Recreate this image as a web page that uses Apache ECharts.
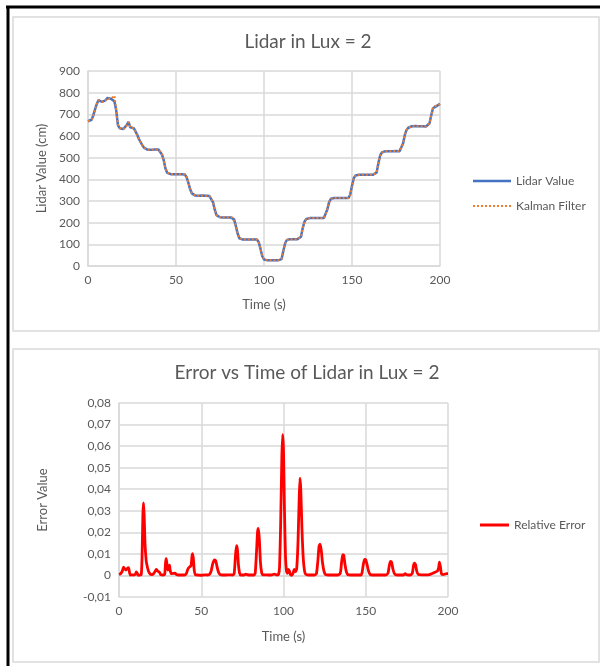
<!DOCTYPE html>
<html>
<head>
<meta charset="utf-8">
<script src="https://cdn.jsdelivr.net/npm/echarts@6/dist/echarts.min.js"></script>
<style>html,body{margin:0;padding:0;background:#fff}#c{width:600px;height:666px}</style>
</head>
<body>
<div id="c"></div>
<script>
// ---- Chart 1 data (time in s, 1 s steps) ----
const lidarTime = [];
for (let i = 0; i <= 200; i++) lidarTime.push(i);
const lidarValue = [
668,670,675,695,723,748,766,762,757,754,765,775,777,772,769,760,720,650,636,631,
632,636,650,665,640,640,636,634,605,585,570,555,545,540,536,535,536,537,538,538,
538,536,515,489,450,430,425,424,424,424,423,423,423,423,423,422,410,385,355,335,
327,325,324,324,324,325,324,324,323,323,318,295,260,235,226,225,224,224,225,224,
224,224,224,215,185,150,128,124,122,122,122,122,122,123,122,122,122,110,80,45,
30,27,26,26,26,26,26,26,26,26,32,70,105,120,123,124,124,124,124,124,
124,135,175,205,217,220,221,221,221,221,221,221,221,221,221,228,262,295,310,314,
314,314,314,314,314,314,314,314,314,330,370,405,418,421,421,421,421,421,421,421,
421,421,421,421,432,475,510,524,528,530,530,530,530,530,530,531,533,530,535,565,
605,628,638,643,645,645,646,645,645,645,645,645,644,645,658,695,728,737,738,742,
748];
const kalmanValue = [
668,670,674,694,722,747,765,762,757,755,764,774,776,772,769,786,722,652,637,631,
632,635,649,664,641,640,636,634,606,586,571,556,546,540,537,535,536,537,538,538,
538,536,516,490,451,431,425,424,424,424,423,423,423,423,423,422,411,386,356,336,
327,325,324,324,324,325,324,324,323,323,318,296,261,236,226,225,224,224,225,224,
224,224,224,215,186,151,129,124,122,122,122,122,122,123,122,122,122,110,81,46,
31,27,26,26,26,26,26,26,26,26,32,69,104,120,123,124,124,124,124,124,
124,135,174,204,217,220,221,221,221,221,221,221,221,221,221,228,261,294,310,314,
314,314,314,314,314,314,314,314,314,330,369,404,418,421,421,421,421,421,421,421,
421,421,421,421,432,474,509,524,528,530,530,530,530,530,530,531,533,530,535,564,
604,627,638,643,645,645,646,645,645,645,645,645,644,645,658,694,727,737,738,742,
748];

// ---- Chart 2 data ----
const errTime = [
0,1,2,2.8,3.5,4.2,5,5.8,6.5,7,8,9,10,10.5,11,11.6,12.5,13.5,14,14.5,14.9,15.3,15.8,16.5,17.2,18,19,20,
21,22,22.6,23.3,24,24.6,25.3,26,27,27.8,28.3,28.7,29.2,29.7,30.2,30.7,31.2,32,33,34,35,36,38,40,41,42,43,43.8,44.4,44.8,45.3,45.8,46.5,
48,50,52,54,55,56,57,58,58.8,59.6,60.5,61.5,63,65,67,69,70,70.7,71.4,72,72.6,73.3,74,76,77,79,81,82,82.8,83.6,84.2,84.7,85.3,86,86.8,87.5,
89,91,93,94.5,96,97,97.6,98.3,99,99.5,100,100.6,101.2,101.8,102.4,103,103.6,104.3,105,105.8,106.5,107.3,108,108.8,109.5,110,110.5,111.2,112,112.8,113.6,
115,117,119,120,120.8,121.6,122.2,122.9,123.7,124.6,125.5,127,129,131,133,134.5,135.3,136,136.6,137.4,138.3,139.2,
141,143,145,147,147.7,148.5,149.3,150,150.8,151.7,152.7,154,156,158,160,162,163.5,164.3,165,165.7,166.5,167.5,
169,171,173,174,174.8,176,177,178.3,179,179.6,180.3,181,182,184,186,188,190,192,193.5,194.3,194.8,195.4,196,197,198,199,200];
const errValue = [
0.0005,0.0008,0.002,0.0038,0.003,0.0025,0.0032,0.0036,0.001,0.0002,0.0003,0.0002,0.0006,0.0016,0.0012,0.0001,0.0002,0.0003,0.008,0.028,0.0337,0.028,0.015,0.007,0.004,0.0018,0.0006,0.0004,
0.0008,0.002,0.0028,0.0022,0.0018,0.0015,0.0004,0.0003,0.0002,0.0005,0.006,0.0078,0.005,0.0025,0.0039,0.0048,0.002,0.0008,0.001,0.0011,0.0004,0.0002,0.0002,0.0002,0.001,0.0032,0.004,0.0045,0.009,0.0101,0.007,0.002,0.0003,
0.0002,0.0001,0.0003,0.0002,0.0005,0.002,0.0055,0.0072,0.0068,0.004,0.0015,0.0004,0.0002,0.0002,0.0003,0.0002,0.0008,0.008,0.0138,0.012,0.005,0.001,0.0002,0.0002,0.0006,0.0002,0.0002,0.0002,0.001,0.011,0.02,0.0218,0.017,0.006,0.001,0.0003,
0.0003,0.0002,0.0003,0.0006,0.0002,0.0005,0.004,0.025,0.055,0.0653,0.058,0.03,0.009,0.002,0.001,0.0028,0.002,0.0003,0.0001,0.001,0.0028,0.0018,0.003,0.015,0.035,0.0451,0.04,0.022,0.008,0.002,0.0005,
0.0002,0.0002,0.0002,0.0008,0.006,0.0135,0.0145,0.012,0.006,0.002,0.0004,0.0002,0.0002,0.0002,0.0002,0.001,0.006,0.0097,0.0095,0.005,0.0015,0.0003,
0.0002,0.0002,0.0002,0.0002,0.001,0.005,0.0075,0.0073,0.005,0.002,0.0004,0.0002,0.0002,0.0002,0.0002,0.0002,0.001,0.0045,0.0065,0.0062,0.003,0.0008,
0.0002,0.0002,0.0002,0.0008,0.0003,0.0002,0.0002,0.001,0.0045,0.0057,0.005,0.002,0.0004,0.0003,0.0003,0.0003,0.0008,0.0015,0.002,0.0035,0.0062,0.004,0.0008,0.0004,0.0006,0.0008,0.0008];

const FONT = 'Lato, "Liberation Sans", sans-serif';
const TXT = '#595959';
const GRID = '#d9d9d9';

const zip = (a, b) => a.map((v, i) => [v, b[i]]);

// legend icons: solid bar and a row of small dots
const SOLID_ICON = 'path://M0,0L38,0L38,2.5L0,2.5Z';
let dots = '';
for (let k = 0; k < 10; k++) { const x0 = k * 4; dots += 'M' + x0 + ',0L' + (x0 + 2) + ',0L' + (x0 + 2) + ',2L' + x0 + ',2Z'; }
const DOT_ICON = 'path://' + dots;
const RED_ICON = 'path://M0,0L29,0L29,3L0,3Z';

const chart = echarts.init(document.getElementById('c'), null, {renderer: 'canvas'});

function axisCommon() {
  return {
    axisLine: {show: true, lineStyle: {color: GRID, width: 1.5}},
    axisTick: {show: false},
    splitLine: {show: true, lineStyle: {color: GRID, width: 1.5}},
    axisLabel: {color: TXT, fontFamily: FONT, fontSize: 12},
    nameTextStyle: {color: TXT, fontFamily: FONT, fontSize: 13}
  };
}

const option = {
  animation: false,
  backgroundColor: '#fff',
  textStyle: {fontFamily: FONT},
  graphic: [
    {type: 'line', shape: {x1: 6, y1: 7, x2: 600, y2: 7}, style: {stroke: '#000', lineWidth: 3}},
    {type: 'line', shape: {x1: 8, y1: 6, x2: 8, y2: 666}, style: {stroke: '#000', lineWidth: 3}},
    {type: 'rect', shape: {x: 13, y: 17, width: 586, height: 314}, style: {fill: 'none', stroke: GRID, lineWidth: 1.5}},
    {type: 'rect', shape: {x: 13, y: 349, width: 586, height: 313}, style: {fill: 'none', stroke: GRID, lineWidth: 1.5}},
    {type: 'text', x: 308, y: 42, style: {text: 'Lidar in Lux = 2', fill: TXT, font: '19px ' + FONT, textAlign: 'center', textVerticalAlign: 'middle'}},
    {type: 'text', x: 307, y: 373, style: {text: 'Error vs Time of Lidar in Lux = 2', fill: TXT, font: '19px ' + FONT, textAlign: 'center', textVerticalAlign: 'middle'}}
  ],
  grid: [
    {left: 88, top: 71, width: 352, height: 195},
    {left: 119, top: 403, width: 329, height: 194}
  ],
  xAxis: [
    Object.assign(axisCommon(), {type: 'value', gridIndex: 0, min: 0, max: 200, interval: 50,
      name: 'Time (s)', nameLocation: 'middle', nameGap: 32}),
    Object.assign(axisCommon(), {type: 'value', gridIndex: 1, min: 0, max: 200, interval: 50,
      name: 'Time (s)', nameLocation: 'middle', nameGap: 33})
  ],
  yAxis: [
    Object.assign(axisCommon(), {type: 'value', gridIndex: 0, min: 0, max: 900, interval: 100,
      name: 'Lidar Value (cm)', nameLocation: 'middle', nameGap: 40}),
    Object.assign(axisCommon(), {type: 'value', gridIndex: 1, min: -0.01, max: 0.08, interval: 0.01,
      name: 'Error Value', nameLocation: 'middle', nameGap: 70,
      axisLabel: {color: TXT, fontFamily: FONT, fontSize: 12,
        formatter: v => Math.abs(v) < 1e-9 ? '0' : v.toFixed(2).replace('.', ',')}})
  ],
  legend: [
    {data: [{name: 'Lidar Value', icon: SOLID_ICON}, {name: 'Kalman Filter', icon: DOT_ICON}],
      orient: 'vertical', left: 473, top: 175, padding: 0,
      itemWidth: 38, itemHeight: 2.5, itemGap: 13,
      textStyle: {color: TXT, fontFamily: FONT, fontSize: 12}},
    {data: [{name: 'Relative Error', icon: RED_ICON}], orient: 'vertical', left: 480, top: 519, padding: 0,
      itemWidth: 29, itemHeight: 3,
      textStyle: {color: TXT, fontFamily: FONT, fontSize: 12}}
  ],
  series: [
    {name: 'Lidar Value', type: 'line', xAxisIndex: 0, yAxisIndex: 0, symbol: 'none',
      data: zip(lidarTime, lidarValue), lineStyle: {color: '#4472C4', width: 2.5}, itemStyle: {color: '#4472C4'}},
    {name: 'Kalman Filter', type: 'line', xAxisIndex: 0, yAxisIndex: 0, symbol: 'none',
      data: zip(lidarTime, kalmanValue), lineStyle: {color: '#ED7D31', width: 2, type: [2, 2]}, itemStyle: {color: '#ED7D31'}},
    {name: 'Relative Error', type: 'line', xAxisIndex: 1, yAxisIndex: 1, symbol: 'none', smooth: 0.2,
      data: zip(errTime, errValue), lineStyle: {color: '#FF0000', width: 2.8}, itemStyle: {color: '#FF0000'}}
  ]
};
chart.setOption(option);
</script>
</body>
</html>
